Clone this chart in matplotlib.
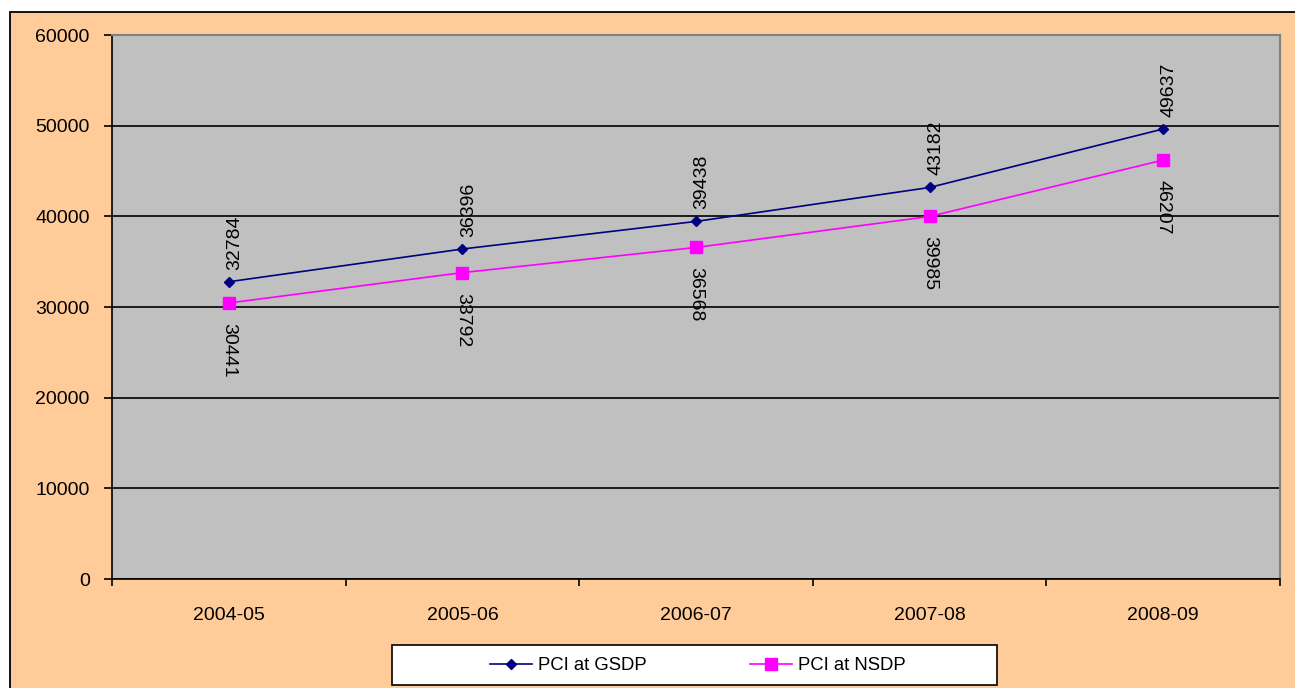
import matplotlib
matplotlib.use("Agg")
import matplotlib.pyplot as plt
from matplotlib.patches import Rectangle
from matplotlib.lines import Line2D

categories = ["2004-05", "2005-06", "2006-07", "2007-08", "2008-09"]
pci_gsdp = [32784, 36396, 39438, 43182, 49637]
pci_nsdp = [30441, 33792, 36568, 39985, 46207]
series_names = ["PCI at GSDP", "PCI at NSDP"]
y_ticks = [0, 10000, 20000, 30000, 40000, 50000, 60000]

plt.rcParams['font.family'] = ['Liberation Sans', 'DejaVu Sans']
FS = 14

W, H = 1295, 688
fig = plt.figure(figsize=(W / 100, H / 100), dpi=100)
fig.patch.set_facecolor('white')

# outer chart area
fig.add_artist(Rectangle((10 / W, -0.02), 1.2, 1 - 12 / H + 0.02,
                         transform=fig.transFigure, facecolor='#FFCC99',
                         edgecolor='black', linewidth=1.3, zorder=0))

ax = fig.add_axes([112 / W, 1 - 579 / H, (1280 - 112) / W, (579 - 35) / H])
ax.set_facecolor('#C0C0C0')

x = list(range(len(categories)))
navy = '#000080'
magenta = '#FF00FF'
ax.plot(x, pci_gsdp, color=navy, lw=1.2, marker='D', markersize=5.6,
        markerfacecolor=navy, markeredgecolor=navy, zorder=4, clip_on=False)
ax.plot(x, pci_nsdp, color=magenta, lw=1.2, marker='s', markersize=8.8,
        markerfacecolor=magenta, markeredgecolor=magenta, zorder=4, clip_on=False)

for xi, v in zip(x, pci_gsdp):
    ax.annotate(str(v), (xi, v), xytext=(6, 12), textcoords='offset pixels',
                rotation=90, ha='center', va='bottom', fontsize=FS, zorder=5)
for xi, v in zip(x, pci_nsdp):
    ax.annotate(str(v), (xi, v), xytext=(0, -20), textcoords='offset pixels',
                rotation=-90, ha='center', va='top', fontsize=FS, zorder=5)

ax.set_xlim(-0.5, len(categories) - 0.5)
ax.set_ylim(0, 60000)
ax.set_yticks(y_ticks)
ax.set_yticklabels([str(t) for t in y_ticks], fontsize=FS)
ax.set_xticks(x)
ax.set_xticklabels(categories, fontsize=FS)
ax.set_xticks([i - 0.5 for i in range(len(categories) + 1)], minor=True)
ax.tick_params(axis='x', which='major', length=0, pad=20)
ax.tick_params(axis='x', which='minor', length=5, width=1.2, direction='out')
ax.tick_params(axis='y', which='major', length=6, width=1.2, pad=10, direction='out')

ax.grid(axis='y', color='black', lw=1.2, zorder=1)
ax.set_axisbelow(True)
for s in ['left', 'bottom']:
    ax.spines[s].set_color('black')
    ax.spines[s].set_linewidth(1.2)
for s in ['top', 'right']:
    ax.spines[s].set_color('#808080')
    ax.spines[s].set_linewidth(1.5)

# legend box
fig.add_artist(Rectangle((392 / W, 1 - 685 / H), (997 - 392) / W, (685 - 645) / H,
                         transform=fig.transFigure, facecolor='white',
                         edgecolor='black', linewidth=1.2, zorder=2))
handles = [Line2D([], [], color=navy, lw=1.2, marker='D', markersize=5.6),
           Line2D([], [], color=magenta, lw=1.2, marker='s', markersize=8.8)]
leg = fig.legend(handles, series_names, loc='center',
                 bbox_to_anchor=(698 / W, 1 - 666 / H), ncol=2, frameon=False,
                 fontsize=13.3, handlelength=2.27, handletextpad=0.33,
                 columnspacing=5.57, borderaxespad=0, borderpad=0)
leg.set_zorder(3)

fig.savefig('out.png', dpi=100, facecolor=fig.get_facecolor())
